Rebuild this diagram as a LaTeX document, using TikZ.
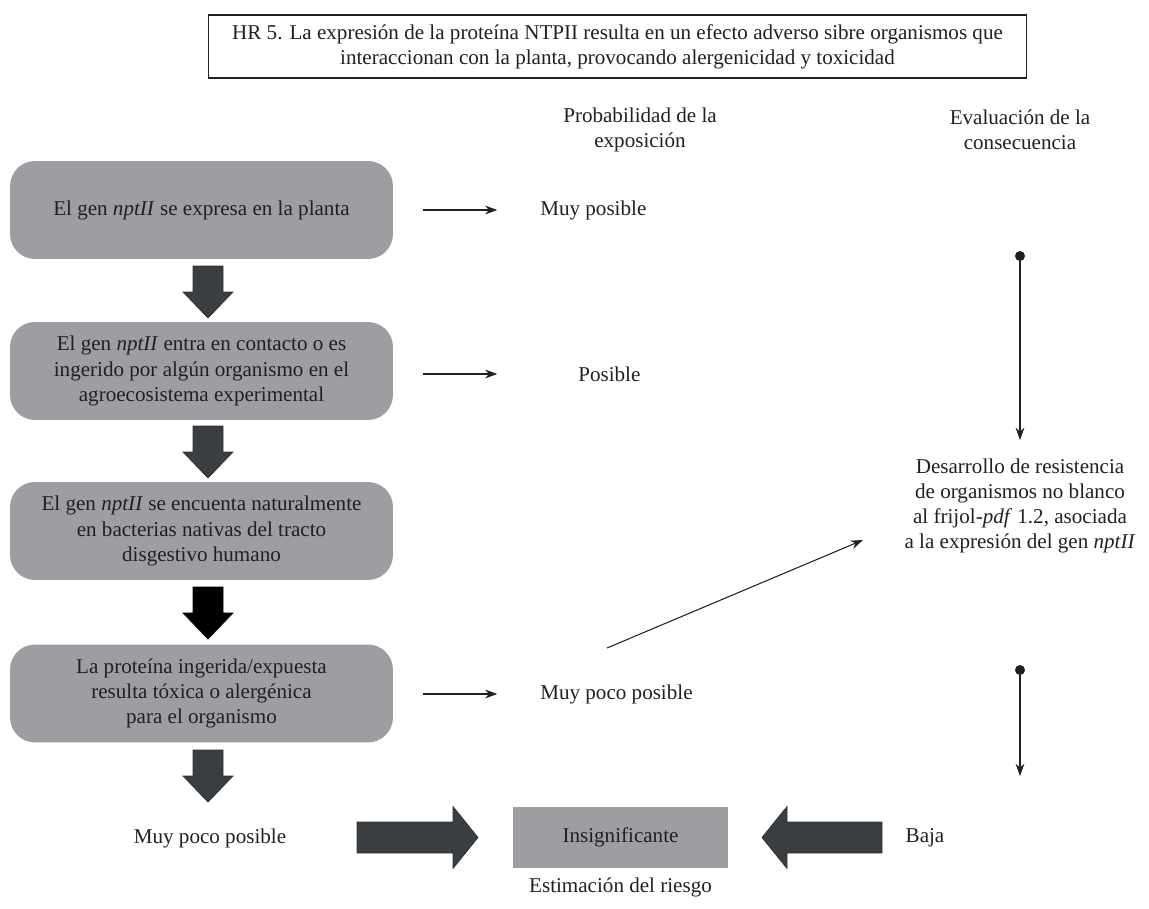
\documentclass[tikz,border=0pt]{standalone}
\usepackage{fontspec}
\setmainfont{Liberation Serif}
\usetikzlibrary{arrows.meta}
\definecolor{boxgray}{HTML}{9C9EA1}
\definecolor{arrowdark}{HTML}{3B3E41}
\definecolor{ink}{HTML}{231F20}

% downward block arrow: centre x, top y, fill colour
\newcommand\blkdown[3]{%
  \filldraw[fill=#3,draw=#3!80!black,line width=0.4pt]
    (#1-15,#2) -- (#1+15,#2) -- (#1+15,#2+26) -- (#1+25,#2+26)
    -- (#1,#2+52) -- (#1-25,#2+26) -- (#1-15,#2+26) -- cycle;}
% horizontal block arrow: tail x, tip x, centre y (direction from sign)
\newcommand\blkhoriz[3]{%
  \filldraw[fill=arrowdark,draw=arrowdark!80!black,line width=0.4pt]
    (#1,#3-15.5) -- ({#2-25*sign(#2-#1)},#3-15.5) -- ({#2-25*sign(#2-#1)},#3-31)
    -- (#2,#3) -- ({#2-25*sign(#2-#1)},#3+31) -- ({#2-25*sign(#2-#1)},#3+15.5)
    -- (#1,#3+15.5) -- cycle;}

\begin{document}
\begin{tikzpicture}[x=0.02cm,y=-0.02cm,
  font=\fontsize{12}{14.3}\selectfont, text=ink,
  stepbox/.style={fill=boxgray, rounded corners=0.5cm, minimum width=7.66cm,
    minimum height=1.96cm, align=center, inner sep=0pt},
  lbl/.style={align=center, inner sep=0pt},
  thinarrow/.style={draw=ink, line width=0.6pt, -{Stealth[length=7pt,width=5pt]}},
  dotted arrow/.style={draw=ink, line width=0.6pt,
    {Circle[length=6pt]}-{Stealth[length=7pt,width=5pt]}}]
\useasboundingbox (0,0) rectangle (1149,909);

% title
\node[draw=ink, line width=0.6pt, minimum width=16.38cm, minimum height=1.26cm,
  align=center, inner sep=0pt] (title) at (617.5,46.5)
  {HR 5. La expresión de la proteína NTPII resulta en un efecto adverso sibre organismos que\\
   interaccionan con la planta, provocando alergenicidad y toxicidad};

% column headings
\node[lbl] (hprob) at (640,130) {Probabilidad de la\\exposición};
\node[lbl] (hcons) at (1020,130) {Evaluación de la\\consecuencia};

% chain of events
\node[stepbox] (b1) at (201.5,210) {El gen \textit{nptII} se expresa en la planta};
\node[stepbox] (b2) at (201.5,371) {El gen \textit{nptII} entra en contacto o es\\
  ingerido por algún organismo en el\\agroecosistema experimental};
\node[stepbox] (b3) at (201.5,531) {El gen \textit{nptII} se encuenta naturalmente\\
  en bacterias nativas del tracto\\disgestivo humano};
\node[stepbox] (b4) at (201.5,693.5) {La proteína ingerida/expuesta\\
  resulta tóxica o alergénica\\para el organismo};

\blkdown{208}{266}{arrowdark}
\blkdown{208}{426}{arrowdark}
\blkdown{208}{587}{black}
\blkdown{208}{750}{arrowdark}

% probability of exposure
\node[lbl, anchor=west] (p1) at (540,210) {Muy posible};
\node[lbl, anchor=west] (p2) at (578,374) {Posible};
\node[lbl, anchor=west] (p4) at (540,694) {Muy poco posible};

\draw[thinarrow] (b1.east) ++(30,0) -- ++(74,0);
\draw[thinarrow] (b2.east) ++(30,3) -- ++(74,0);
\draw[thinarrow] (b4.east) ++(30,0.5) -- ++(74,0);

% consequence
\node[lbl] (cons) at (1020,506) {Desarrollo de resistencia\\de organismos no blanco\\
  al frijol-\textit{pdf} 1.2, asociada\\a la expresión del gen \textit{nptII}};
\coordinate (diagstart) at (607,648);
\draw[thinarrow] (diagstart) -- (863,540);

\coordinate (dot1) at (1020,256);
\coordinate (dot2) at (1020,670);
\fill[ink] (dot1) circle (5);
\fill[ink] (dot2) circle (5);
\draw[thinarrow] (dot1) -- (cons.north |- 0,440);
\draw[thinarrow] (dot2) -- (1020,776);

% risk estimate
\node[lbl] (lowprob) at (210,838) {Muy poco posible};
\node[fill=boxgray, minimum width=4.3cm, minimum height=1.22cm, inner sep=0pt]
  (risk) at (620.5,837.5) {Insignificante};
\node[lbl] (low) at (925,838) {Baja};
\node[lbl] (riskcap) at (620.5,887) {Estimación del riesgo};

\blkhoriz{357}{478}{837.5}
\blkhoriz{882}{762}{837.5}
\end{tikzpicture}
\end{document}
